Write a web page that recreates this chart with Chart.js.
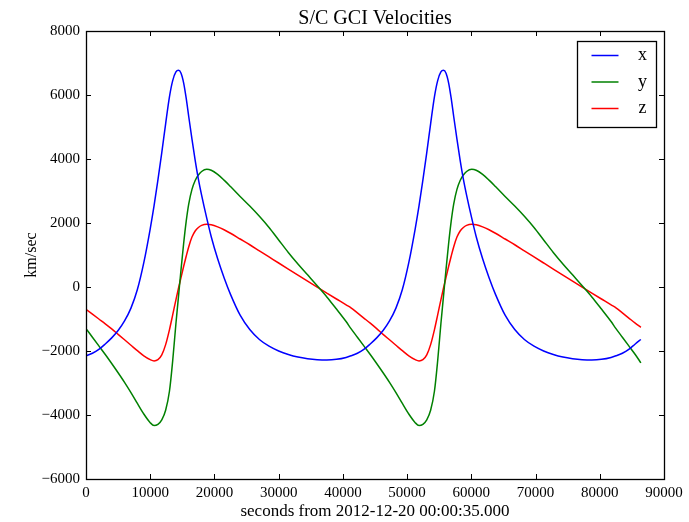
<!DOCTYPE html>
<html><head><meta charset="utf-8">
<script src="https://cdn.jsdelivr.net/npm/chart.js@4/dist/chart.umd.min.js"></script>
<style>html,body{margin:0;padding:0;background:#fff}</style>
</head><body>
<canvas id="c" width="689" height="522" style="width:689px;height:522px;display:block"></canvas>
<script>
const chartTitle = 'S/C GCI Velocities';
const xAxisTitle = 'seconds from 2012-12-20 00:00:35.000';
const yAxisTitle = 'km/sec';
const seriesNames = ['x', 'y', 'z'];
const seriesColors = ['#0000ff', '#008000', '#ff0000'];
const xTicks = [0, 10000, 20000, 30000, 40000, 50000, 60000, 70000, 80000, 90000];
const yTicks = [-6000, -4000, -2000, 0, 2000, 4000, 6000, 8000];

const seconds = [
  0,1000,2000,3000,4000,5000,6000,7000,8000,9000,10000,10600,11200,11800,12400,13000,13500,14000,14400,14800,15200,15600,16000,16500,17000,17500,18000,18800,19500,20500,21500,22500,24000,25500,27000,28500,30000,31500,33000,34500,36000,37500,39000,40500,
  41260,42260,43260,44260,45260,46260,47260,48260,49260,50260,51260,51860,52460,53060,53660,54260,54760,55260,55660,56060,56460,56860,57260,57760,58260,58760,59260,60060,60760,61760,62760,63760,65260,66760,68260,69760,71260,72760,74260,75760,77260,78760,80260,81760,
  82520,83520,84520,85520,86400
];
const xVel = [
  -2150,-2070,-1950,-1780,-1590,-1360,-1060,-660,-80,760,1820,2540,3350,4200,5100,5950,6450,6720,6770,6680,6380,5900,5320,4620,3960,3370,2870,2150,1570,880,290,-230,-880,-1330,-1640,-1850,-2000,-2110,-2190,-2240,-2270,-2280,-2260,-2200,
  -2150,-2070,-1950,-1780,-1590,-1360,-1060,-660,-80,760,1820,2540,3350,4200,5100,5950,6450,6720,6770,6680,6380,5900,5320,4620,3960,3370,2870,2150,1570,880,290,-230,-880,-1330,-1640,-1850,-2000,-2110,-2190,-2240,-2270,-2280,-2260,-2200,
  -2150,-2070,-1950,-1780,-1640
];
const yVel = [
  -1300,-1570,-1840,-2110,-2390,-2680,-2980,-3300,-3640,-3970,-4240,-4330,-4290,-4150,-3850,-3250,-2300,-1150,-300,550,1350,2050,2600,3050,3330,3500,3610,3680,3650,3520,3340,3140,2830,2530,2210,1860,1470,1080,720,380,40,-310,-690,-1080,
  -1300,-1570,-1840,-2110,-2390,-2680,-2980,-3300,-3640,-3970,-4240,-4330,-4290,-4150,-3850,-3250,-2300,-1150,-300,550,1350,2050,2600,3050,3330,3500,3610,3680,3650,3520,3340,3140,2830,2530,2210,1860,1470,1080,720,380,40,-310,-690,-1080,
  -1300,-1570,-1840,-2110,-2370
];
const zVel = [
  -700,-850,-1000,-1150,-1310,-1480,-1650,-1820,-1990,-2150,-2270,-2310,-2270,-2120,-1800,-1330,-870,-400,-40,300,640,960,1260,1560,1750,1860,1925,1960,1945,1880,1790,1680,1500,1320,1130,940,750,560,370,180,-5,-190,-375,-560,
  -650,-810,-970,-1130,-1300,-1480,-1650,-1820,-1990,-2150,-2270,-2310,-2270,-2120,-1800,-1330,-870,-400,-40,300,640,960,1260,1560,1750,1860,1925,1960,1945,1880,1790,1680,1500,1320,1130,940,750,560,370,180,-5,-190,-375,-560,
  -650,-810,-970,-1130,-1260
];

const SERIF = '"Liberation Serif", "DejaVu Serif", serif';
const fmt = v => (v < 0 ? '\u2212' + Math.abs(v) : String(v));

const framePlugin = {
  id: 'frame',
  afterDatasetsDraw(chart) {
    const {ctx, chartArea: a, scales: {x, y}} = chart;
    ctx.save();
    ctx.strokeStyle = '#000';
    ctx.lineWidth = 1;
    ctx.beginPath();
    const tl = 5;
    xTicks.forEach(v => {
      const px = Math.round(x.getPixelForValue(v)) + 0.5;
      ctx.moveTo(px, a.bottom); ctx.lineTo(px, a.bottom - tl);
      ctx.moveTo(px, a.top); ctx.lineTo(px, a.top + tl);
    });
    yTicks.forEach(v => {
      const py = Math.round(y.getPixelForValue(v)) + 0.5;
      ctx.moveTo(a.left, py); ctx.lineTo(a.left + tl, py);
      ctx.moveTo(a.right, py); ctx.lineTo(a.right - tl, py);
    });
    ctx.stroke();
    ctx.lineWidth = 1.3;
    ctx.strokeRect(Math.round(a.left) + 0.5, Math.round(a.top) + 0.5, Math.round(a.right - a.left), Math.round(a.bottom - a.top));

    // legend box
    const bx = Math.round(a.right) - 87 + 0.5, by = Math.round(a.top) + 10 + 0.5, bw = 79, bh = 86;
    ctx.fillStyle = '#fff';
    ctx.fillRect(bx, by, bw, bh);
    ctx.lineWidth = 1.3;
    ctx.strokeStyle = '#000';
    ctx.strokeRect(bx, by, bw, bh);
    chart.data.datasets.forEach((ds, i) => {
      const ry = by + 14 + i * 26.5;
      ctx.strokeStyle = ds.borderColor;
      ctx.lineWidth = 1.5;
      ctx.beginPath();
      ctx.moveTo(bx + 14, ry); ctx.lineTo(bx + 41, ry);
      ctx.stroke();
      ctx.fillStyle = '#000';
      ctx.font = '18px ' + SERIF;
      ctx.textAlign = 'center';
      ctx.textBaseline = 'middle';
      ctx.fillText(ds.label, bx + 65, ry);
    });
    ctx.restore();
  }
};

const series = [xVel, yVel, zVel];
const datasets = series.map((arr, i) => ({
  label: seriesNames[i],
  data: seconds.map((t, j) => ({x: t, y: arr[j]})),
  borderColor: seriesColors[i],
  backgroundColor: seriesColors[i],
  borderWidth: 1.5,
  pointRadius: 0,
  fill: false,
  cubicInterpolationMode: 'monotone'
}));

new Chart(document.getElementById('c'), {
  type: 'line',
  data: {datasets},
  options: {
    responsive: false,
    animation: false,
    devicePixelRatio: 1,
    layout: {padding: {left: 0, right: 25, top: 0, bottom: 0}},
    plugins: {
      legend: {display: false},
      tooltip: {enabled: false},
      title: {
        display: true, text: chartTitle, color: '#000', fullSize: false,
        font: {family: SERIF, size: 20, weight: 'normal', lineHeight: 1.2},
        padding: {top: 7, bottom: 0}
      }
    },
    scales: {
      x: {
        type: 'linear', min: 0, max: 90000,
        afterBuildTicks: s => { s.ticks = xTicks.map(v => ({value: v})); },
        afterFit: s => { s.height = 43; },
        grid: {display: false, drawTicks: false},
        border: {display: false},
        ticks: {color: '#000', font: {family: SERIF, size: 15}, padding: 5, autoSkip: false, maxRotation: 0, callback: v => fmt(v)},
        title: {display: true, text: xAxisTitle, color: '#000', font: {family: SERIF, size: 17, lineHeight: 1.2}, padding: {top: 0, bottom: 0}}
      },
      y: {
        type: 'linear', min: -6000, max: 8000,
        afterBuildTicks: s => { s.ticks = yTicks.map(v => ({value: v})); },
        afterFit: s => { s.width = 86; },
        grid: {display: false, drawTicks: false},
        border: {display: false},
        ticks: {color: '#000', font: {family: SERIF, size: 15}, padding: 6, autoSkip: false, callback: v => fmt(v)},
        title: {display: true, text: yAxisTitle, color: '#000', font: {family: SERIF, size: 16, lineHeight: 1.2}, padding: {top: 22, bottom: 0}}
      }
    }
  },
  plugins: [framePlugin]
});
</script>
</body></html>
